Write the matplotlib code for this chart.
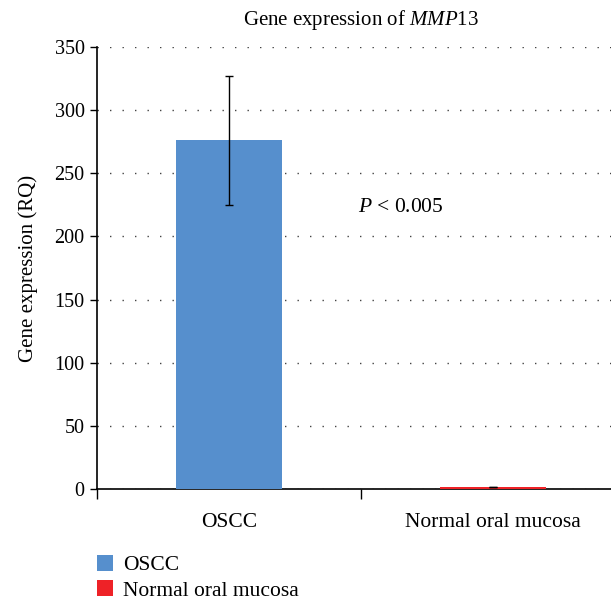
import matplotlib
matplotlib.use("Agg")
import matplotlib.pyplot as plt
from matplotlib.patches import Patch
import numpy as np

plt.rcParams["font.family"] = ["Liberation Serif", "DejaVu Serif"]
plt.rcParams["mathtext.fontset"] = "custom"
plt.rcParams["mathtext.rm"] = "Liberation Serif"
plt.rcParams["mathtext.it"] = "Liberation Serif:italic"

categories = ["OSCC", "Normal oral mucosa"]
values = [276, 1.5]
errors = [51, 0.3]
colors = ["#568fcd", "#ee2227"]
yticks = [0, 50, 100, 150, 200, 250, 300, 350]

fig = plt.figure(figsize=(6.11, 6.0), dpi=100)
ax = fig.add_axes([97 / 611, 111 / 600, 528 / 611, 442 / 600])

x = np.arange(len(categories))
ax.bar(x, values, width=0.4, color=colors, zorder=3)
ax.errorbar(x, values, yerr=errors, fmt="none", ecolor="black",
            elinewidth=1, capsize=3, capthick=1, zorder=4)

ax.set_xlim(-0.5, 1.5)
ax.set_ylim(0, 350)
ax.set_yticks(yticks)
ax.tick_params(axis="y", labelsize=14.5, direction="out", length=5, width=1, pad=4)
ax.set_xticks(x)
ax.set_xticklabels(categories, fontsize=15.5)
ax.tick_params(axis="x", which="major", length=0, pad=17)
ax.set_xticks([-0.5, 0.5, 1.5], minor=True)
ax.tick_params(axis="x", which="minor", direction="out", length=7, width=1)

ax.grid(axis="y", linestyle=(0, (1, 8)), color="#444444", linewidth=1, zorder=0)
for s in ("top", "right"):
    ax.spines[s].set_visible(False)
ax.spines["left"].set_linewidth(1.2)
ax.spines["bottom"].set_linewidth(1.2)

ax.set_ylabel("Gene expression (RQ)", fontsize=15, labelpad=12)
ax.set_title("Gene expression of $\\mathit{MMP}$13", fontsize=15, pad=16)
ax.text(0.65, 223, "$\\mathit{P}$ < 0.005", fontsize=15.5, ha="center", va="center")

handles = [Patch(facecolor=c, edgecolor="none") for c in colors]
fig.legend(handles, categories, loc="upper left",
           bbox_to_anchor=(97 / 611, 45 / 600), frameon=False, fontsize=15.5,
           handlelength=0.75, handleheight=0.75, handletextpad=0.45,
           labelspacing=0.22, borderpad=0, borderaxespad=0)

fig.savefig("out.png", dpi=100)
